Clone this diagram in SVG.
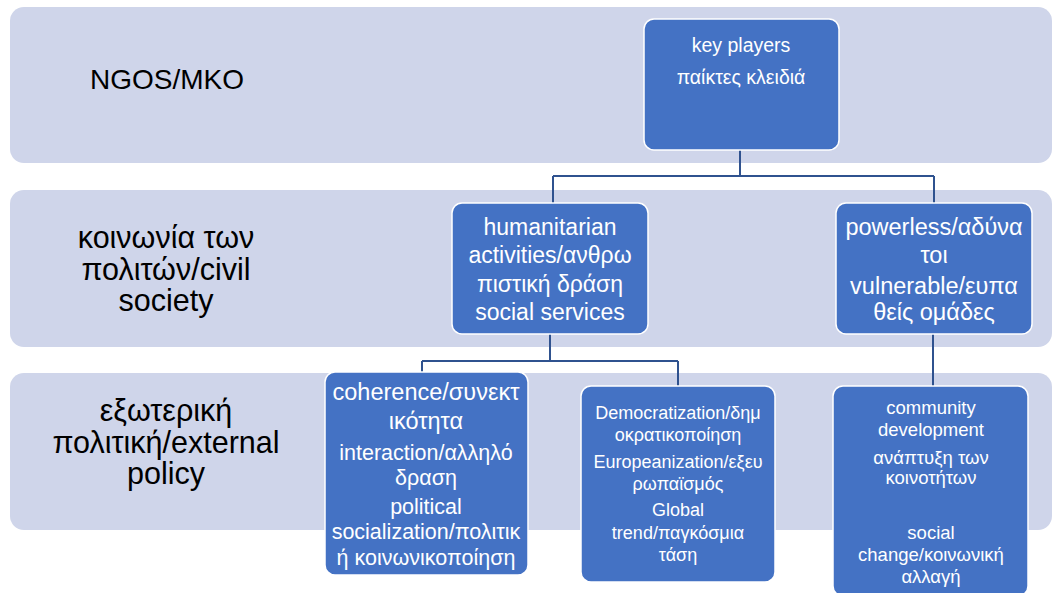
<svg xmlns="http://www.w3.org/2000/svg" width="1055" height="593" viewBox="0 0 1055 593">
<style>
.band{fill:#CFD5EA;}
.box{fill:#4472C4;stroke:#FFFFFF;stroke-width:1.5;}
.lbl{font-family:"Liberation Sans",Arial,sans-serif;fill:#000000;text-anchor:middle;}
.t{font-family:"Liberation Sans",Arial,sans-serif;fill:#FFFFFF;text-anchor:middle;}
.con{fill:none;stroke:#2F528F;stroke-width:2;}
</style>
<rect x="0" y="0" width="1055" height="593" fill="#FFFFFF"/>
<g id="bands">
<rect class="band" x="10" y="7" width="1042" height="156" rx="14"/>
<rect class="band" x="10" y="190" width="1042" height="157" rx="14"/>
<rect class="band" x="10" y="373" width="1042" height="157" rx="14"/>
</g>
<g id="band-labels">
<text class="lbl" x="167" y="89" font-size="28">NGOS/MKO</text>
<text class="lbl" font-size="30.5"><tspan x="166" y="248">κοινωνία των</tspan><tspan x="166" y="280">πολιτών/civil</tspan><tspan x="166" y="311">society</tspan></text>
<text class="lbl" font-size="30.5"><tspan x="166" y="421">εξωτερική</tspan><tspan x="166" y="453">πολιτική/external</tspan><tspan x="166" y="484">policy</tspan></text>
</g>
<g id="connectors">
<path class="con" d="M740 150 V176 M553 176 H934 M553 176 V203 M934 176 V203"/>
<path class="con" d="M550 334 V361 M422 361 H678 M422 361 V372 M678 361 V386"/>
<path class="con" d="M933 334 V386"/>
</g>
<g id="node-key-players">
<rect class="box" x="644" y="19" width="195" height="131" rx="10"/>
<text class="t" font-size="19.5"><tspan x="741" y="52">key players</tspan><tspan x="741" y="84">παίκτες κλειδιά</tspan></text>
</g>
<g id="node-humanitarian">
<rect class="box" x="452" y="203" width="196" height="131" rx="10"/>
<text class="t" font-size="23"><tspan x="550" y="235">humanitarian</tspan><tspan x="550" y="263">activities/ανθρω</tspan><tspan x="550" y="292">πιστική δράση</tspan><tspan x="550" y="320">social services</tspan></text>
</g>
<g id="node-powerless">
<rect class="box" x="836" y="203" width="196" height="131" rx="10"/>
<text class="t" font-size="23.5"><tspan x="934" y="235">powerless/αδύνα</tspan><tspan x="934" y="263">τοι</tspan><tspan x="934" y="294">vulnerable/ευπα</tspan><tspan x="934" y="320">θείς ομάδες</tspan></text>
</g>
<g id="node-coherence">
<rect class="box" x="325" y="372" width="203" height="203" rx="10"/>
<text class="t" font-size="21.5"><tspan x="426" y="400" font-size="23.5">coherence/συνεκτ</tspan><tspan x="426" y="429" font-size="23.5">ικότητα</tspan><tspan x="426" y="460">interaction/αλληλό</tspan><tspan x="426" y="485">δραση</tspan><tspan x="426" y="514">political</tspan><tspan x="426" y="539">socialization/πολιτικ</tspan><tspan x="426" y="565">ή κοινωνικοποίηση</tspan></text>
</g>
<g id="node-democratization">
<rect class="box" x="581" y="386" width="194" height="196" rx="10"/>
<text class="t" font-size="18"><tspan x="678" y="419">Democratization/δημ</tspan><tspan x="678" y="441">οκρατικοποίηση</tspan><tspan x="678" y="468">Europeanization/εξευ</tspan><tspan x="678" y="490">ρωπαϊσμός</tspan><tspan x="678" y="516">Global</tspan><tspan x="678" y="539">trend/παγκόσμια</tspan><tspan x="678" y="561">τάση</tspan></text>
</g>
<g id="node-community">
<rect class="box" x="833" y="386" width="195" height="210" rx="10"/>
<text class="t" font-size="18.5"><tspan x="931" y="414">community</tspan><tspan x="931" y="436">development</tspan><tspan x="931" y="464">ανάπτυξη των</tspan><tspan x="931" y="484">κοινοτήτων</tspan><tspan x="931" y="539">social</tspan><tspan x="931" y="561">change/κοινωνική</tspan><tspan x="931" y="583">αλλαγή</tspan></text>
</g>
</svg>
